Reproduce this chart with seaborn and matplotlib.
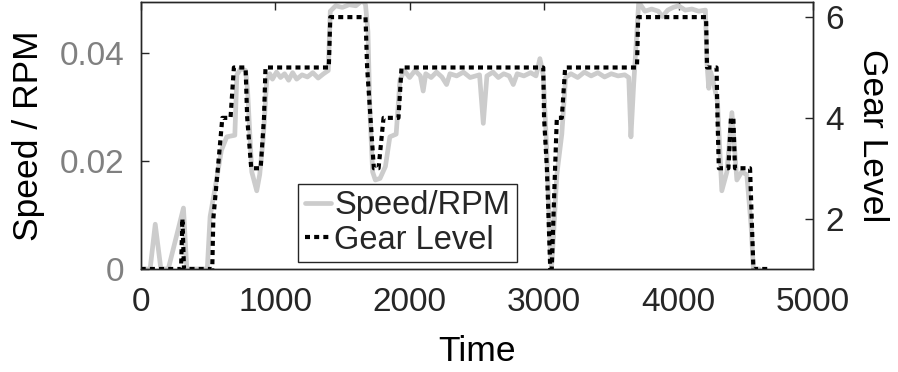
import matplotlib
matplotlib.use("Agg")
import matplotlib.pyplot as plt
import seaborn as sns
import pandas as pd
from matplotlib.lines import Line2D

# ---------------- data ----------------
speed_time = [0, 70, 108, 150, 205, 318, 343, 495, 516, 560, 600, 640, 700, 715, 745, 780,
              795, 826, 863, 885, 912, 937, 960, 980, 1010, 1040, 1070, 1100, 1130, 1160,
              1200, 1240, 1280, 1320, 1360, 1395, 1410, 1450, 1500, 1550, 1600, 1650, 1672,
              1690, 1705, 1725, 1745, 1780, 1820, 1853, 1900, 1928, 1960, 2000, 2040, 2080,
              2101, 2120, 2160, 2200, 2240, 2275, 2300, 2350, 2400, 2450, 2520, 2548, 2575,
              2620, 2660, 2700, 2740, 2771, 2800, 2850, 2900, 2940, 2969, 2994, 3020, 3045,
              3055, 3070, 3095, 3132, 3160, 3200, 3250, 3300, 3350, 3400, 3450, 3500, 3550,
              3600, 3630, 3646, 3666, 3704, 3750, 3800, 3850, 3880, 3920, 3960, 4000, 4050,
              4100, 4150, 4200, 4212, 4225, 4240, 4265, 4290, 4322, 4360, 4397, 4434, 4470,
              4508, 4540, 4557, 4600]
speed_rpm = [0, 0, 0.0083, 0, 0, 0.0113, 0, 0, 0.0097, 0.016, 0.022, 0.0245, 0.0248, 0.036,
             0.0372, 0.0368, 0.033, 0.018, 0.0145, 0.0175, 0.0245, 0.035, 0.0362, 0.0352,
             0.0365, 0.0355, 0.0362, 0.035, 0.0364, 0.0352, 0.036, 0.0356, 0.0364, 0.0354,
             0.0362, 0.0368, 0.0478, 0.0488, 0.0485, 0.049, 0.0488, 0.0498, 0.049, 0.044,
             0.029, 0.018, 0.0165, 0.0168, 0.019, 0.0245, 0.025, 0.035, 0.0368, 0.0355,
             0.0368, 0.0358, 0.033, 0.0362, 0.0355, 0.0365, 0.0356, 0.0342, 0.0362, 0.0358,
             0.0365, 0.0355, 0.036, 0.027, 0.0358, 0.0365, 0.0355, 0.0362, 0.0358, 0.0342,
             0.0362, 0.0358, 0.0364, 0.0358, 0.039, 0.036, 0.022, 0.004, 0, 0.006, 0.0175,
             0.025, 0.0355, 0.0362, 0.0355, 0.0365, 0.0358, 0.0364, 0.0356, 0.0362, 0.0358,
             0.036, 0.0355, 0.0245, 0.034, 0.0495, 0.0478, 0.0482, 0.0478, 0.0468, 0.048,
             0.0485, 0.0488, 0.048, 0.0482, 0.0478, 0.048, 0.038, 0.0335, 0.0365, 0.034,
             0.031, 0.0145, 0.018, 0.029, 0.0165, 0.018, 0.0175, 0.008, 0, 0]

gear_time = [0, 300, 310, 322, 532, 540, 574, 607, 668, 693, 780, 792, 822, 892, 917, 928,
             1399, 1410, 1672, 1684, 1709, 1734, 1769, 1806, 1917, 1940, 2994, 3000, 3021,
             3046, 3057, 3082, 3095, 3132, 3157, 3691, 3700, 4205, 4212, 4283, 4290, 4300,
             4371, 4390, 4408, 4420, 4532, 4557, 4668]
gear_level = [1, 1, 2, 1, 1, 2, 3, 4, 4, 5, 5, 4, 3, 3, 4, 5,
              5, 6, 6, 5, 4, 3, 3, 4, 4, 5, 5, 4, 3,
              1, 1, 3, 4, 4, 5, 5, 6, 6, 5, 5, 4, 3,
              3, 4, 4, 3, 3, 1, 1]

x_ticks = [0, 1000, 2000, 3000, 4000, 5000]
left_ticks = [0, 0.02, 0.04]
left_tick_labels = ["0", "0.02", "0.04"]
right_ticks = [2, 4, 6]

speed_df = pd.DataFrame({"Time": speed_time, "Speed": speed_rpm})
gear_df = pd.DataFrame({"Time": gear_time, "Gear": gear_level})

# ---------------- style ----------------
sns.set_style("white")
plt.rcParams["font.family"] = ["Liberation Sans", "DejaVu Sans"]
plt.rcParams["axes.linewidth"] = 1.0

fig = plt.figure(figsize=(8.98, 3.72), dpi=100)
ax = fig.add_axes([0.1567, 0.2769, 0.7486, 0.7177])
ax2 = ax.twinx()

sns.lineplot(data=speed_df, x="Time", y="Speed", ax=ax, color="#cccccc", linewidth=3.4,
             estimator=None, sort=False, legend=False)
sns.lineplot(data=gear_df, x="Time", y="Gear", ax=ax2, color="black", linewidth=3.0,
             estimator=None, sort=False, legend=False)
for ln in ax.get_lines():
    ln.set_solid_joinstyle("round")
for ln in ax2.get_lines():
    ln.set_linestyle((0, (1.2, 1.0)))
    ln.set_dash_capstyle("butt")

ax.set_xlim(0, 5000)
ax.set_ylim(0, 0.0495)
ax2.set_ylim(1, 6.3)

ax.set_xticks(x_ticks)
ax.set_xticklabels([str(v) for v in x_ticks])
ax.set_yticks(left_ticks)
ax.set_yticklabels(left_tick_labels)
ax2.set_yticks(right_ticks)
ax2.set_yticklabels([str(v) for v in right_ticks])

spine_c = "#262626"
for a in (ax, ax2):
    for s in a.spines.values():
        s.set_color(spine_c)
        s.set_linewidth(1.0)

ax.tick_params(axis="x", direction="in", length=6, width=1, colors=spine_c,
               labelsize=24, pad=13, top=True, labelcolor="#262626")
ax.tick_params(axis="y", direction="in", length=6, width=1, color=spine_c,
               labelsize=24, pad=12, labelcolor="#808080", left=True)
ax2.tick_params(axis="y", direction="in", length=6, width=1, color=spine_c,
                labelsize=24, pad=9, labelcolor="#262626", right=True)

ax.set_xlabel("Time", fontsize=25.5, color="black", labelpad=12)
ax.set_ylabel("Speed / RPM", fontsize=25.5, color="black", labelpad=10)
ax2.set_ylabel("Gear Level", fontsize=25.5, color="black", rotation=270, labelpad=32)

handles = [Line2D([], [], color="#cccccc", linewidth=3.4),
           Line2D([], [], color="black", linewidth=3.0, linestyle=(0, (1.2, 1.0)),
                  dash_capstyle="butt")]
leg = ax2.legend(handles, ["Speed/RPM", "Gear Level"], loc="lower right",
                 bbox_to_anchor=(0.559, 0.026), fontsize=23.5, frameon=True, fancybox=False,
                 framealpha=1.0, edgecolor="#262626", handlelength=0.8, handletextpad=0.1,
                 borderpad=0.2, labelspacing=0.1, borderaxespad=0.0)
leg.get_frame().set_linewidth(1.0)

fig.savefig("out.png", dpi=100)
